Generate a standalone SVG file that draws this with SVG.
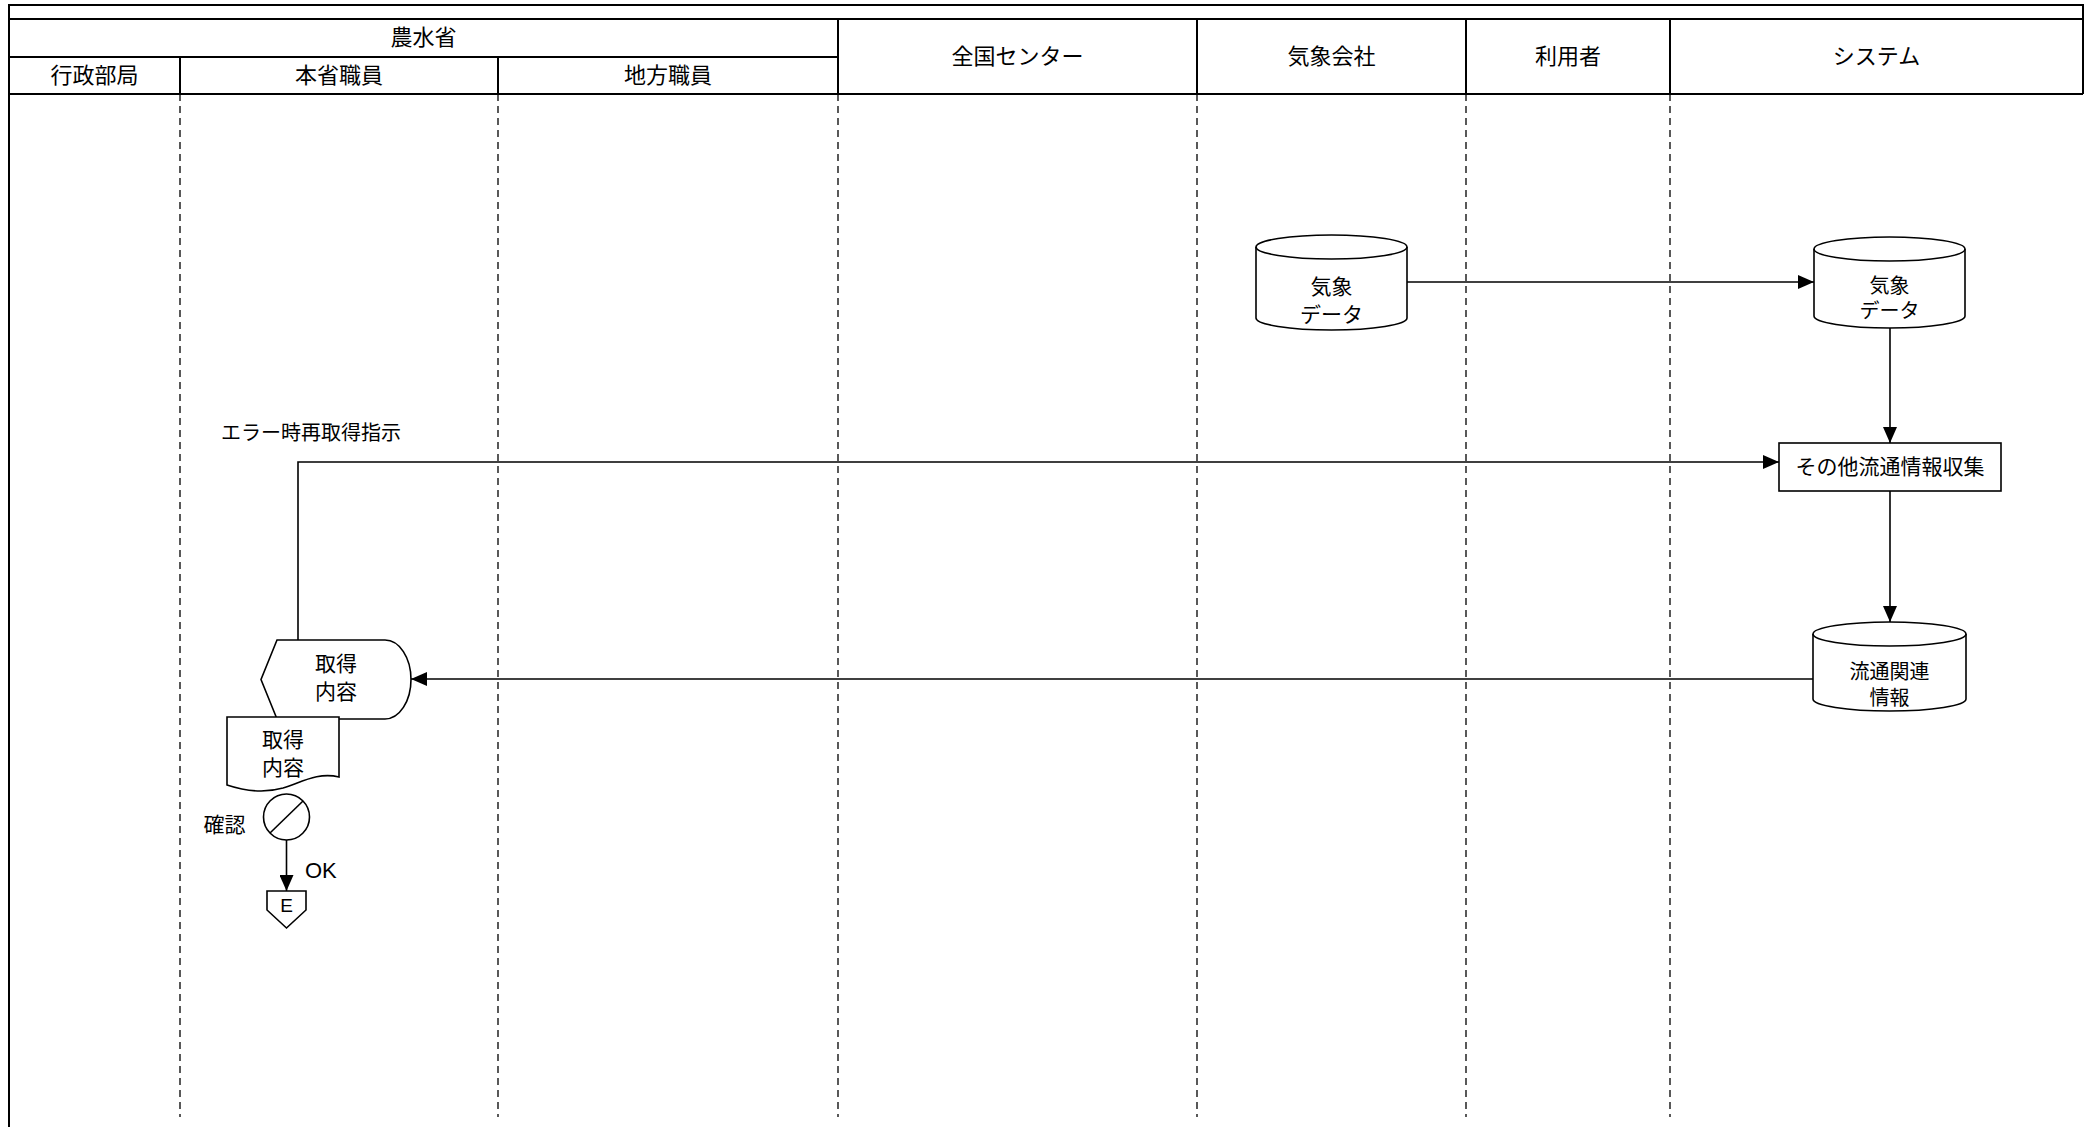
<svg xmlns="http://www.w3.org/2000/svg" width="2093" height="1127" viewBox="0 0 2093 1127">
<defs>
<style>
.t{font-family:"Noto Sans CJK JP","Liberation Sans",sans-serif;font-size:21px;fill:#000;text-anchor:middle;dominant-baseline:central}
.h{font-size:22px}
.l{font-family:"Liberation Sans","Noto Sans CJK JP",sans-serif;font-size:22px;fill:#000;dominant-baseline:central}
.frame{fill:none;stroke:#000;stroke-width:2}
.lane{fill:none;stroke:#000;stroke-width:1.3;stroke-dasharray:7 5}
.node{fill:#fff;stroke:#000;stroke-width:1.6}
.edge{fill:none;stroke:#000;stroke-width:1.6}
</style>
<marker id="arr" markerUnits="userSpaceOnUse" markerWidth="16" markerHeight="14" refX="16" refY="7" orient="auto">
<path d="M0,0 L16,7 L0,14 Z" fill="#000"/>
</marker>
</defs>
<rect width="2093" height="1127" fill="#fff"/>
<g id="header">
<path class="frame" d="M9,1127 V5 H2083 V94 M9,19 H2083 M9,57 H838 M9,94 H2083 M180,57 V94 M498,57 V94 M838,19 V94 M1197,19 V94 M1466,19 V94 M1670,19 V94"/>
<text class="t h" x="423.5" y="35">農水省</text>
<text class="t h" x="94.5" y="73">行政部局</text>
<text class="t h" x="339" y="73">本省職員</text>
<text class="t h" x="668" y="73">地方職員</text>
<text class="t h" x="1017.5" y="54">全国センター</text>
<text class="t h" x="1331.5" y="54">気象会社</text>
<text class="t h" x="1568" y="54">利用者</text>
<text class="t h" x="1876.5" y="54">システム</text>
</g>
<g id="lanes">
<path class="lane" d="M180,94 V1117 M498,94 V1117 M838,94 V1117 M1197,94 V1117 M1466,94 V1117 M1670,94 V1117"/>
</g>
<g id="connectors">
<path class="edge" d="M1407,282 H1814" marker-end="url(#arr)"/>
<path class="edge" d="M1890,327 V443" marker-end="url(#arr)"/>
<path class="edge" d="M1890,491 V622" marker-end="url(#arr)"/>
<path class="edge" d="M1813,679 H411" marker-end="url(#arr)"/>
<path class="edge" d="M298,640 V462 H1779" marker-end="url(#arr)"/>
<path class="edge" d="M286.5,840 V891" marker-end="url(#arr)"/>
<text class="t" x="311" y="431" style="font-size:20px">エラー時再取得指示</text>
<text class="l" x="305" y="870">OK</text>
</g>
<g id="weather-data-src">
<path class="node" d="M1256,247 A75.5,12 0 0 1 1407,247 V318 A75.5,12 0 0 1 1256,318 Z"/>
<path class="edge" d="M1256,247 A75.5,12 0 0 0 1407,247"/>
<text class="t" x="1331.5" y="285">気象</text>
<text class="t" x="1331.5" y="313">データ</text>
</g>
<g id="weather-data-sys">
<path class="node" d="M1814,249 A75.5,12 0 0 1 1965,249 V316 A75.5,12 0 0 1 1814,316 Z"/>
<path class="edge" d="M1814,249 A75.5,12 0 0 0 1965,249"/>
<text class="t" x="1889.5" y="284" style="font-size:20px">気象</text>
<text class="t" x="1889.5" y="309" style="font-size:20px">データ</text>
</g>
<g id="collect">
<rect class="node" x="1779" y="443" width="222" height="48"/>
<text class="t" x="1890" y="465">その他流通情報収集</text>
</g>
<g id="dist-info">
<path class="node" d="M1813,634 A76.5,12 0 0 1 1966,634 V699 A76.5,12 0 0 1 1813,699 Z"/>
<path class="edge" d="M1813,634 A76.5,12 0 0 0 1966,634"/>
<text class="t" x="1889.5" y="670" style="font-size:20px">流通関連</text>
<text class="t" x="1889.5" y="696" style="font-size:20px">情報</text>
</g>
<g id="display">
<path class="node" d="M277,640 H385 A26,39.5 0 0 1 385,719 H277 L261,679.5 Z"/>
<text class="t" x="336" y="662">取得</text>
<text class="t" x="336" y="690">内容</text>
</g>
<g id="document">
<path class="node" d="M227,717 H339 V777 C318,772 302,782 283,788 C262,794 242,790 227,785 Z"/>
<text class="t" x="283" y="738">取得</text>
<text class="t" x="283" y="766">内容</text>
</g>
<g id="check">
<circle class="node" cx="286.5" cy="817" r="23"/>
<path class="edge" d="M270,833 L303,801"/>
<text class="t" x="224.5" y="823">確認</text>
</g>
<g id="end-E">
<path class="node" d="M267,891 H306 V910 L286.5,928 L267,910 Z"/>
<text class="l" x="286.5" y="905" style="font-size:19px;text-anchor:middle">E</text>
</g>
</svg>
